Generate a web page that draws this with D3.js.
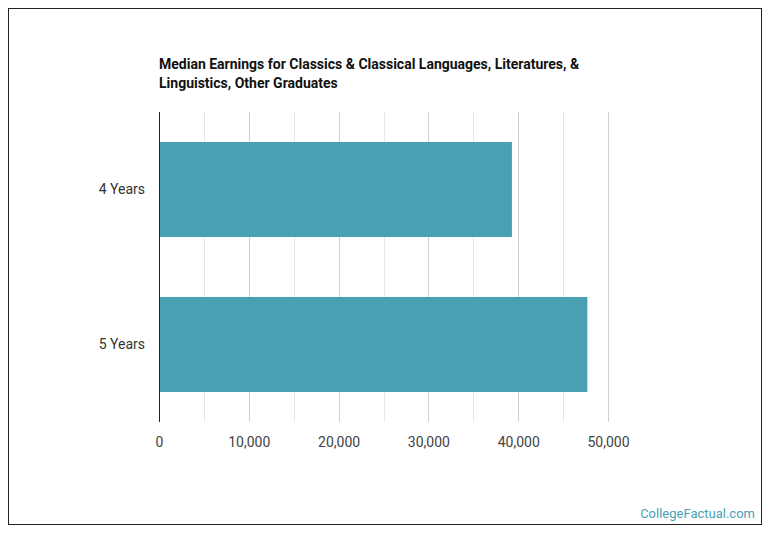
<!DOCTYPE html>
<html><head><meta charset="utf-8">
<script src="https://cdn.jsdelivr.net/npm/d3@7/dist/d3.min.js"></script>
<style>body{margin:0;background:#fff;}svg{display:block;font-family:Roboto,"Open Sans",sans-serif;}</style>
</head><body>
<svg id="c" width="770" height="536"></svg>
<script>
const categories = ["4 Years", "5 Years"];
const values = [39300, 47700];
const xTicks = [0, 10000, 20000, 30000, 40000, 50000];
const gridTicks = [5000, 10000, 15000, 20000, 25000, 30000, 35000, 40000, 45000, 50000];
const titleLines = ["Median Earnings for Classics & Classical Languages, Literatures, &", "Linguistics, Other Graduates"];

const svg = d3.select("#c");
svg.append("rect").attr("x", 8.5).attr("y", 8.5).attr("width", 753).attr("height", 516)
  .attr("fill", "#fff").attr("stroke", "#222").attr("stroke-width", 1);

const x = d3.scaleLinear().domain([0, 50000]).range([159, 608]);
const y = d3.scaleBand().domain(categories).range([112, 422]).paddingInner(0.387).paddingOuter(0.1935);

// grid
svg.append("g").selectAll("line").data(gridTicks).join("line")
  .attr("x1", d => Math.round(x(d)) + 0.5).attr("x2", d => Math.round(x(d)) + 0.5)
  .attr("y1", 112).attr("y2", 422)
  .attr("stroke", d => d % 10000 === 0 ? "#cfcfcf" : "#e6e6e6").attr("stroke-width", 1);

// bars
svg.append("g").selectAll("rect").data(categories).join("rect")
  .attr("x", x(0)).attr("y", d => y(d))
  .attr("width", (d, i) => x(values[i]) - x(0)).attr("height", y.bandwidth())
  .attr("fill", "#4aa0b3");

// axis line
svg.append("line").attr("x1", 159.5).attr("x2", 159.5).attr("y1", 112).attr("y2", 422)
  .attr("stroke", "#222").attr("stroke-width", 1);

// x tick labels
const xAxis = d3.axisBottom(x).tickValues(xTicks).tickFormat(d3.format(",")).tickSize(0).tickPadding(0);
const gx = svg.append("g").attr("transform", "translate(0,443)").call(xAxis);
gx.select(".domain").remove();
gx.selectAll("text").attr("font-size", 14).attr("fill", "#444").attr("dy", "0.32em")
  .attr("font-family", "Roboto, sans-serif");

// y labels
const yAxis = d3.axisLeft(y).tickSize(0).tickPadding(0);
const gy = svg.append("g").attr("transform", "translate(145,0)").call(yAxis);
gy.select(".domain").remove();
gy.selectAll("text").attr("font-size", 14).attr("fill", "#333").attr("font-family", "Roboto, sans-serif");

// title
svg.append("g").selectAll("text").data(titleLines).join("text")
  .attr("x", 159).attr("y", (d, i) => 69 + i * 19)
  .attr("font-size", 14).attr("font-weight", "bold").attr("fill", "#111")
  .text(d => d);

// watermark
svg.append("text").attr("x", 755).attr("y", 518).attr("text-anchor", "end")
  .attr("font-size", 13).attr("fill", "#4aa0b3").text("CollegeFactual.com");
</script>
</body></html>
